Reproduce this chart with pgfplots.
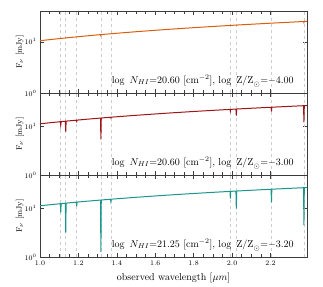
\documentclass[border=0pt]{standalone}
\usepackage{pgfplots}
\pgfplotsset{compat=1.18}
\definecolor{corange}{RGB}{217,95,14}
\definecolor{cred}{RGB}{160,20,25}
\definecolor{cteal}{RGB}{26,150,140}
\definecolor{cgrid}{RGB}{205,205,205}
\definecolor{caxis}{RGB}{60,60,60}
\pgfplotsset{mypanel/.style={
  width=267pt, height=82pt, scale only axis, anchor=south west,
  xmin=1.0, xmax=2.39, ymin=1,
  xtick={1.0,1.2,1.4,1.6,1.8,2.0,2.2}, minor x tick num=3,
  tick align=inside, xtick pos=both, ytick pos=both,
  axis line style={caxis, line width=0.6pt},
  tick style={caxis, line width=0.5pt},
  tick label style={font=\scriptsize},
  ylabel={F$_\nu$ [mJy]},
  ylabel style={font=\footnotesize, at={(axis description cs:-0.075,0.5)}, anchor=center},
  xticklabel style={/pgf/number format/fixed, /pgf/number format/fixed zerofill, /pgf/number format/precision=1},
}}
\begin{document}
\begin{tikzpicture}
\path[use as bounding box] (-40pt,-29pt) rectangle (283pt,257pt);
% top panel
\begin{axis}[ymode=log, mypanel, at={(0pt,164pt)}, ymax=40, xticklabels={}]
\pgfplotsinvokeforeach{1.108,1.134,1.191,1.317,1.369,1.991,2.022,2.205,2.374}{%
  \addplot[cgrid, dashed, line width=0.6pt, forget plot] coordinates {(#1,1) (#1,60)};}
\addplot[corange, line width=1pt] coordinates {
(1.00,10.50) (1.05,11.03) (1.10,11.55) (1.15,12.08) (1.20,12.60) (1.25,13.13) (1.30,13.65)
(1.315,13.81) (1.317,13.2) (1.319,13.85) (1.35,14.18) (1.40,14.70) (1.50,15.75) (1.60,16.80)
(1.70,17.85) (1.80,18.90) (1.90,19.95) (2.00,21.00) (2.10,22.05) (2.20,23.10) (2.30,24.15)
(2.372,24.91) (2.374,23.8) (2.376,24.95) (2.39,25.10)};
\node[anchor=base east, font=\normalsize] at (rel axis cs:0.963,0.12)
  {log\enspace$N_{HI}$=20.60 [cm$^{-2}$], log\enspace$\mathrm{Z/Z}_{\odot}$=$-$4.00};
\end{axis}
% middle panel
\begin{axis}[ymode=log, mypanel, at={(0pt,82pt)}, ymax=50, xticklabels={}]
\pgfplotsinvokeforeach{1.108,1.134,1.191,1.317,1.369,1.991,2.022,2.205,2.374}{%
  \addplot[cgrid, dashed, line width=0.6pt, forget plot] coordinates {(#1,1) (#1,60)};}
\addplot[cred, line width=1pt] coordinates {
(1.00,11.50) (1.05,12.08) (1.10,12.65) (1.106,12.72) (1.108,10.8) (1.110,12.77)
(1.132,13.02) (1.134,7.9) (1.136,13.06) (1.15,13.23) (1.189,13.67) (1.191,12.9) (1.193,13.72)
(1.20,13.80) (1.25,14.38) (1.30,14.95) (1.315,15.12) (1.317,5.5) (1.319,15.17)
(1.35,15.53) (1.367,15.72) (1.369,15.2) (1.371,15.77) (1.40,16.10) (1.50,17.25) (1.60,18.40)
(1.70,19.55) (1.80,20.70) (1.90,21.85) (1.989,22.87) (1.991,21.0) (1.993,22.92) (2.00,23.00)
(2.020,23.23) (2.022,17.0) (2.024,23.28) (2.10,24.15) (2.20,25.30) (2.203,25.33) (2.205,20.5)
(2.207,25.38) (2.30,26.45) (2.372,27.28) (2.374,12.3) (2.376,27.32) (2.39,27.49)};
\node[anchor=base east, font=\normalsize] at (rel axis cs:0.963,0.12)
  {log\enspace$N_{HI}$=20.60 [cm$^{-2}$], log\enspace$\mathrm{Z/Z}_{\odot}$=$-$3.00};
\end{axis}
% bottom panel
\begin{axis}[ymode=log, mypanel, at={(0pt,0pt)}, ymax=50,
  xlabel={observed wavelength [$\mu m$]},
  xlabel style={font=\normalsize, at={(axis description cs:0.5,-0.26)}, anchor=center}]
\pgfplotsinvokeforeach{1.108,1.134,1.191,1.317,1.369,1.991,2.022,2.205,2.374}{%
  \addplot[cgrid, dashed, line width=0.6pt, forget plot] coordinates {(#1,1) (#1,60)};}
\addplot[cteal, line width=1pt] coordinates {
(1.00,11.50) (1.05,12.08) (1.10,12.65) (1.106,12.72) (1.108,8.4) (1.110,12.77)
(1.132,13.02) (1.134,3.2) (1.136,13.06) (1.15,13.23) (1.189,13.67) (1.191,11.2) (1.193,13.72)
(1.20,13.80) (1.25,14.38) (1.30,14.95) (1.315,15.12) (1.317,1.27) (1.319,15.17)
(1.35,15.53) (1.367,15.72) (1.369,14.0) (1.371,15.77) (1.40,16.10) (1.50,17.25) (1.60,18.40)
(1.70,19.55) (1.80,20.70) (1.90,21.85) (1.989,22.87) (1.991,16.3) (1.993,22.92) (2.00,23.00)
(2.020,23.23) (2.022,10.0) (2.024,23.28) (2.10,24.15) (2.20,25.30) (2.203,25.33) (2.205,13.5)
(2.207,25.38) (2.30,26.45) (2.372,27.28) (2.374,4.6) (2.376,27.32) (2.39,27.49)};
\node[anchor=base east, font=\normalsize] at (rel axis cs:0.963,0.12)
  {log\enspace$N_{HI}$=21.25 [cm$^{-2}$], log\enspace$\mathrm{Z/Z}_{\odot}$=$-$3.20};
\end{axis}
\end{tikzpicture}
\end{document}
